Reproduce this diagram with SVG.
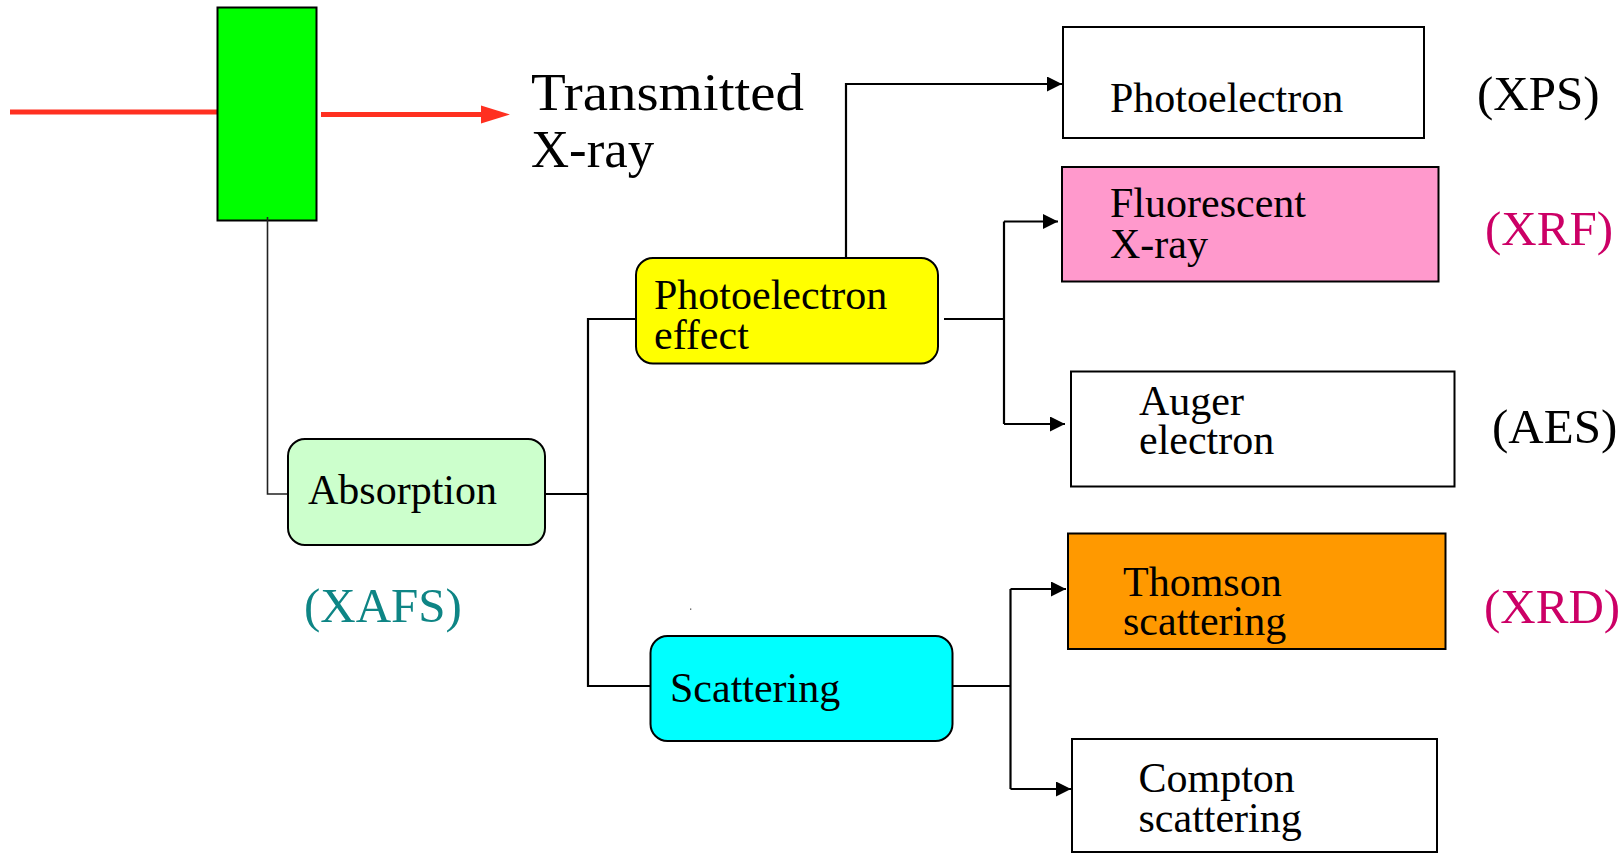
<svg xmlns="http://www.w3.org/2000/svg" width="1623" height="854" viewBox="0 0 1623 854">
<defs>
<style>
.t{font-family:"Liberation Serif","Times New Roman",serif;fill:#000}
.bt{font-size:42px}
.lab{font-size:49px}
.box{stroke:#000;stroke-width:2}
.con{fill:none;stroke:#000;stroke-width:2.2}
</style>
<marker id="ah" markerUnits="userSpaceOnUse" markerWidth="16" markerHeight="16" refX="15" refY="7.5" orient="auto">
<path d="M0,0 L15,7.5 L0,15 Z" fill="#000"/>
</marker>
</defs>
<rect width="1623" height="854" fill="#fff"/>

<g id="beam">
<line x1="10" y1="112" x2="218" y2="112" stroke="#FF3020" stroke-width="5"/>
<line x1="321" y1="114.5" x2="484" y2="114.5" stroke="#FF3020" stroke-width="5"/>
<polygon points="481,105.5 510,114.5 481,123.5" fill="#FF3020"/>
</g>

<g id="sample">
<rect x="217.5" y="7.5" width="99" height="213" fill="#00FF00" class="box"/>
</g>

<g id="transmitted">
<text class="t" x="531" y="110" font-size="52" textLength="273" lengthAdjust="spacingAndGlyphs">Transmitted</text>
<text class="t" x="531" y="167" font-size="52" textLength="123" lengthAdjust="spacingAndGlyphs">X-ray</text>
</g>

<g id="connectors">
<path d="M267.5 217 V494 H288" fill="none" stroke="#222" stroke-width="1.6"/>
<path class="con" d="M545 494 H588 V686 H650"/>
<path class="con" d="M588 493 V319 H636"/>
<path class="con" d="M846 257 V84 H1062" marker-end="url(#ah)"/>
<path class="con" d="M944 319 H1004"/>
<path class="con" d="M1004 221.5 V424"/>
<path class="con" d="M1004 221.5 H1058" marker-end="url(#ah)"/>
<path class="con" d="M1004 424 H1065" marker-end="url(#ah)"/>
<path class="con" d="M953 686 H1010.5"/>
<path class="con" d="M1010.5 589 V789"/>
<path class="con" d="M1010.5 589 H1066" marker-end="url(#ah)"/>
<path class="con" d="M1010.5 789 H1071" marker-end="url(#ah)"/>
</g>

<g id="absorption">
<rect x="288" y="439" width="257" height="106" rx="17" fill="#CCFFCC" class="box"/>
<text class="t bt" x="308" y="504">Absorption</text>
</g>
<g id="xafs">
<text class="t lab" x="304" y="622" fill="#008080" style="fill:#0E8585">(XAFS)</text>
</g>

<g id="photoelectron-effect">
<rect x="636" y="258" width="302" height="105.5" rx="17" fill="#FFFF00" class="box"/>
<text class="t bt" x="654" y="308.5">Photoelectron</text>
<text class="t bt" x="654" y="348.5">effect</text>
</g>

<g id="scattering">
<rect x="650.5" y="636" width="302" height="105" rx="17" fill="#00FFFF" class="box"/>
<text class="t bt" x="670" y="701.5">Scattering</text>
</g>

<g id="photoelectron">
<rect x="1063" y="27" width="361" height="111" fill="#fff" class="box"/>
<text class="t bt" x="1110" y="111.5">Photoelectron</text>
</g>
<g id="xps"><text class="t lab" x="1477" y="109.5">(XPS)</text></g>

<g id="fluorescent">
<rect x="1062" y="167" width="376.5" height="114.5" fill="#FF99CC" class="box"/>
<text class="t bt" x="1110" y="217">Fluorescent</text>
<text class="t bt" x="1110" y="258">X-ray</text>
</g>
<g id="xrf"><text class="t lab" x="1485" y="245" style="fill:#CC0066">(XRF)</text></g>

<g id="auger">
<rect x="1071" y="371.5" width="383.5" height="115" fill="#fff" class="box"/>
<text class="t bt" x="1139" y="415">Auger</text>
<text class="t bt" x="1139" y="454">electron</text>
</g>
<g id="aes"><text class="t lab" x="1492" y="442.5">(AES)</text></g>

<g id="thomson">
<rect x="1068" y="533.5" width="377.5" height="115.5" fill="#FF9900" class="box"/>
<text class="t bt" x="1123" y="595.5">Thomson</text>
<text class="t bt" x="1123" y="635">scattering</text>
</g>
<g id="xrd"><text class="t lab" x="1484" y="623" style="fill:#CC0066">(XRD)</text></g>

<g id="compton">
<rect x="1072" y="739" width="365" height="113" fill="#fff" class="box"/>
<text class="t bt" x="1138.5" y="792">Compton</text>
<text class="t bt" x="1138.5" y="832">scattering</text>
</g>

<rect x="690" y="608.5" width="1.3" height="1.3" fill="#555"/>
</svg>
